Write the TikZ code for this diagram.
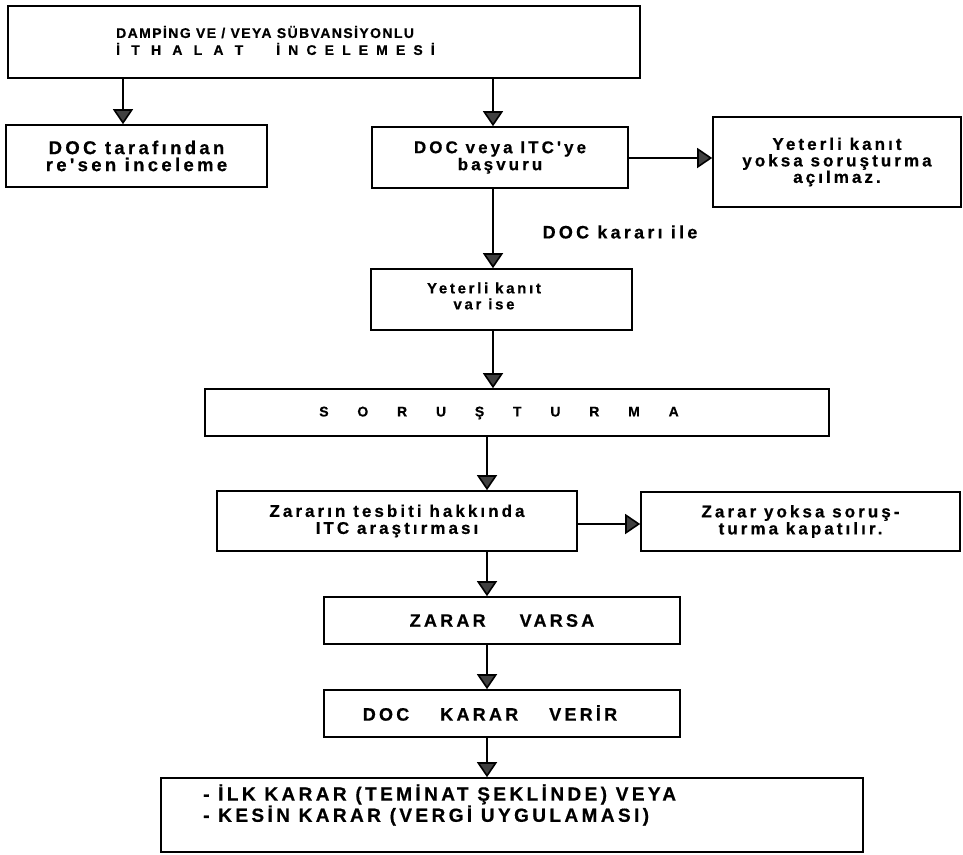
\documentclass[tikz,border=0pt]{standalone}
\usepackage{fontspec}
\newfontfamily\mf{Liberation Sans}[LetterSpace=18, BoldFeatures={FakeBold=0.6}]
\newfontfamily\topfont{Liberation Sans}[LetterSpace=10, BoldFeatures={FakeBold=0.6}]
\usetikzlibrary{arrows.meta}
\newcommand{\F}[2]{\mf\bfseries\fontsize{#1}{#2}\selectfont}
\begin{document}
\begin{tikzpicture}[x=1pt,y=-1pt,
  box/.style={draw, line width=1.6pt, inner sep=0pt, align=center, font=\F{17}{17}},
  txt/.style={inner sep=0pt, align=center, font=\F{17}{17}},
  conn/.style={line width=1.6pt, -{Triangle[width=20pt,length=15pt,fill=black!75]}}]
\useasboundingbox (0,0) rectangle (963,854);

% column / row helpers
\coordinate (xL) at (123,0);
\coordinate (xM) at (493,0);
\coordinate (xB) at (487,0);
\coordinate (yA) at (0,158);
\coordinate (yB) at (0,524);

% boxes
\node[box, minimum width=632pt, minimum height=72pt] (top) at (324,42) {};
\node[txt, anchor=west, align=left, font=\topfont\bfseries\fontsize{14}{17}\selectfont] (toptext) at (116,40.5)
  {DAMPİNG VE / VEYA SÜBVANSİYONLU\\{\spaceskip=11.2pt İ T H A L A T}\hspace{33pt}{\spaceskip=8.1pt İ N C E L E M E S İ}};

\node[box, minimum width=261pt, minimum height=62pt, font=\F{18.5}{17}] (left) at (136.5,156)
  {DOC tarafından\\re'sen inceleme};

\node[box, minimum width=256pt, minimum height=61pt, font=\F{17}{17}] (doc) at (500,157.5)
  {DOC veya ITC'ye\\başvuru};

\node[box, minimum width=248pt, minimum height=90pt, font=\F{17}{16.5}] (yoksa) at (837,162)
  {Yeterli kanıt\\yoksa soruşturma\\açılmaz.};

\node[txt, font=\F{18}{20}] (lbl) at (620,232) {DOC kararı ile};

\node[box, minimum width=261pt, minimum height=61pt] (var) at (501.5,299.5) {};
\node[txt, font=\F{15}{16}] (vartext) at (484,296) {Yeterli kanıt\\var ise};

\node[box, minimum width=624pt, minimum height=47pt] (sor) at (517,412.5) {};
\node[txt, font=\F{14}{16}] (sortext) at (499,413) {{\spaceskip=28.8pt S O R U Ş T U R M A}};

\node[box, minimum width=360pt, minimum height=60pt, font=\F{17}{17}] (zar) at (397,521)
  {Zararın tesbiti hakkında\\ITC araştırması};

\node[box, minimum width=319pt, minimum height=59pt, font=\F{17}{17}] (zyok) at (800.5,521.5)
  {Zarar yoksa soruş-\\turma kapatılır.};

\node[box, minimum width=356pt, minimum height=47pt, font=\F{18}{20}] (zv) at (502,620.5)
  {ZARAR\hspace{34pt}VARSA};

\node[box, minimum width=356pt, minimum height=47pt] (dkv) at (502,713.5) {};
\node[txt, font=\F{18}{20}] (dkvtext) at (490,713) {DOC\hspace{31pt}KARAR\hspace{31pt}VERİR};

\node[box, minimum width=702pt, minimum height=74pt] (final) at (512,815) {};
\node[txt, anchor=west, align=left, font=\F{19}{15}] (finaltext) at (203,805)
  {- İLK KARAR (TEMİNAT ŞEKLİNDE) VEYA\\- KESİN KARAR (VERGİ UYGULAMASI)};

% connectors
\draw[conn] (xL |- top.south) -- (xL |- left.north);
\draw[conn] (xM |- top.south) -- (xM |- doc.north);
\draw[conn] (doc.east |- yA) -- (yoksa.west |- yA);
\draw[conn] (xM |- doc.south) -- (xM |- var.north);
\draw[conn] (xM |- var.south) -- (xM |- sor.north);
\draw[conn] (xB |- sor.south) -- (xB |- zar.north);
\draw[conn] (zar.east |- yB) -- (zyok.west |- yB);
\draw[conn] (xB |- zar.south) -- (xB |- zv.north);
\draw[conn] (xB |- zv.south) -- (xB |- dkv.north);
\draw[conn] (xB |- dkv.south) -- (xB |- final.north);
\end{tikzpicture}
\end{document}
